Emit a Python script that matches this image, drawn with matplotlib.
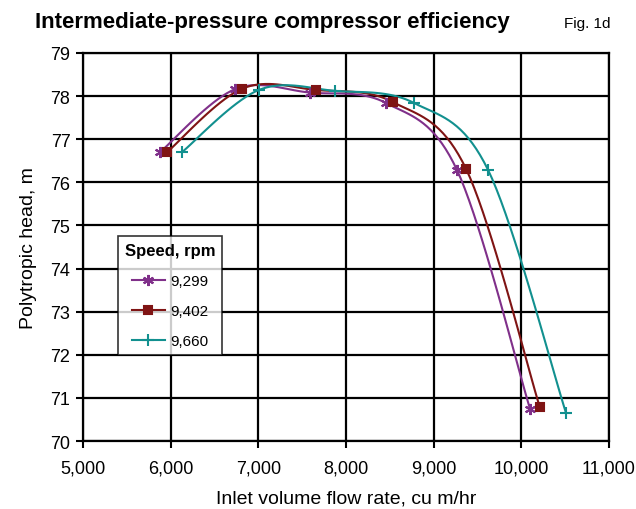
import numpy as np
import matplotlib.pyplot as plt
from matplotlib.ticker import FuncFormatter

flow_9299 = [5880, 6735, 7590, 8455, 9265, 10100]
head_9299 = [76.70, 78.16, 78.08, 77.84, 76.29, 70.74]
flow_9402 = [5960, 6815, 7660, 8535, 9370, 10210]
head_9402 = [76.70, 78.17, 78.14, 77.86, 76.31, 70.79]
flow_9660 = [6130, 7005, 7875, 8775, 9620, 10510]
head_9660 = [76.70, 78.14, 78.12, 77.84, 76.29, 70.65]
speeds = ['9,299', '9,402', '9,660']


def smooth(xs, ys, n=20):
    # Catmull-Rom path through the points, like Excel's smoothed line
    p = np.column_stack([xs, ys]).astype(float)
    p = np.vstack([p[0], p, p[-1]])
    out = []
    for i in range(1, len(p) - 2):
        p0, p1, p2, p3 = p[i - 1], p[i], p[i + 1], p[i + 2]
        t = np.linspace(0, 1, n)[:, None]
        seg = 0.5 * ((2 * p1) + (-p0 + p2) * t
                     + (2 * p0 - 5 * p1 + 4 * p2 - p3) * t ** 2
                     + (-p0 + 3 * p1 - 3 * p2 + p3) * t ** 3)
        out.append(seg)
    out = np.vstack(out)
    return out[:, 0], out[:, 1]


def main():
    plt.rcParams['font.family'] = ['Liberation Sans', 'DejaVu Sans']
    fig = plt.figure(figsize=(6.36, 5.10), dpi=100)
    ax = fig.add_axes([0.1305, 0.1333, 0.827, 0.761])

    series = [
        (flow_9299, head_9299, '#80308a', (6, 2, 0), 8, 'none'),
        (flow_9402, head_9402, '#7f1414', 's', 6, '#7f1414'),
        (flow_9660, head_9660, '#12908f', '+', 9, 'none'),
    ]
    for (xs, ys, c, m, ms, mfc), lab in zip(series, speeds):
        sx, sy = smooth(xs, ys)
        ax.plot(sx, sy, color=c, lw=1.5, zorder=3)
        ax.plot(xs, ys, ls='none', marker=m, ms=ms, color=c, mec=c, mew=1.5, zorder=4)
        ax.plot([], [], color=c, lw=1.5, marker=m, ms=ms, mec=c, mew=1.5, label=lab)

    ax.set_xlim(5000, 11000)
    ax.set_ylim(70, 79)
    ax.set_xticks(range(5000, 11001, 1000))
    ax.set_yticks(range(70, 80))
    ax.xaxis.set_major_formatter(FuncFormatter(lambda v, p: f'{int(v):,}'))
    ax.grid(True, color='black', lw=1.6)
    ax.set_axisbelow(True)
    for s in ax.spines.values():
        s.set_color('black')
        s.set_linewidth(1.6)
    ax.tick_params(direction='out', length=5, width=1.5, labelsize=13, pad=4)
    ax.tick_params(axis='x', pad=8)

    ax.set_xlabel('Inlet volume flow rate, cu m/hr', fontsize=14, labelpad=10)
    ax.set_ylabel('Polytropic head, m', fontsize=14, labelpad=10)

    fig.text(0.055, 0.955, 'Intermediate-pressure compressor efficiency',
             fontsize=16, fontweight='bold', va='center')
    fig.text(0.96, 0.952, 'Fig. 1d', fontsize=11, ha='right', va='center')

    leg = ax.legend(title='Speed, rpm', loc='upper left', bbox_to_anchor=(0.066, 0.527),
                    borderaxespad=0, frameon=True, fancybox=False, edgecolor='black',
                    fontsize=11, handlelength=2.2, labelspacing=1.05, borderpad=0.45,
                    handletextpad=0.3)
    leg.get_title().set_fontweight('bold')
    leg.get_title().set_fontsize(12)
    leg.get_frame().set_linewidth(1.2)
    leg.set_zorder(5)

    fig.savefig('out.png', dpi=100)


if __name__ == '__main__':
    main()
